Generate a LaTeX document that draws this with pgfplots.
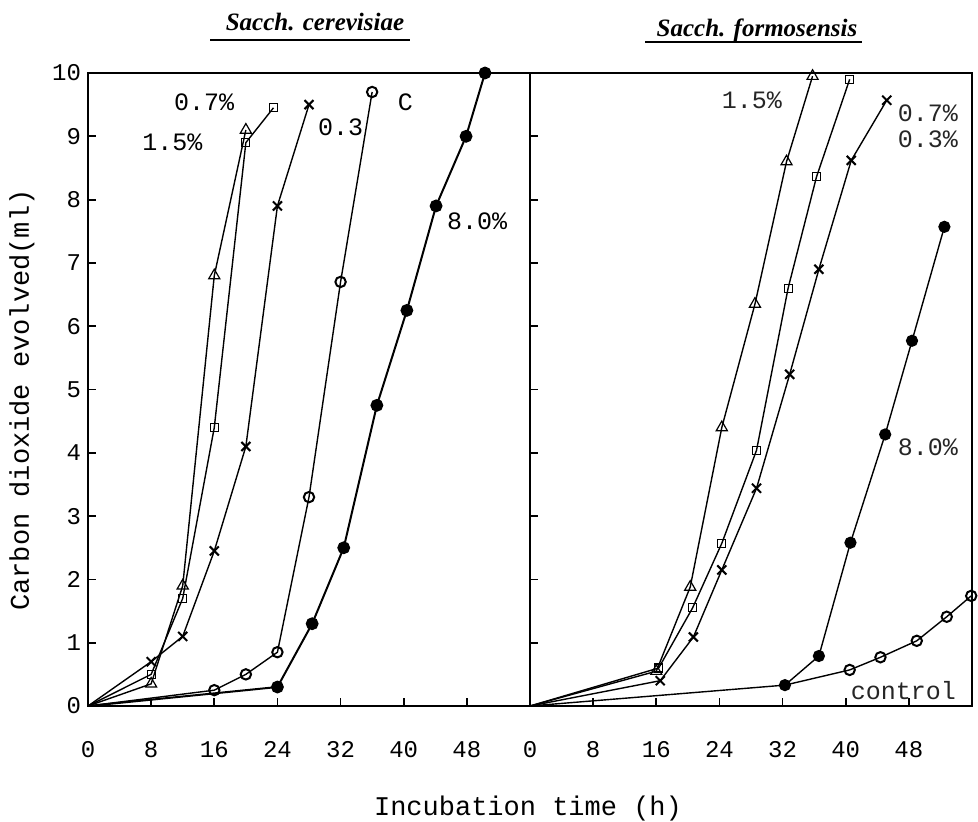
\documentclass[border=0pt]{standalone}
\usepackage{fontspec}
\setmainfont{Liberation Mono}
\newfontfamily\titlefont{Liberation Serif}
\usepackage{pgfplots}
\pgfplotsset{compat=1.18}

\pgfplotsset{
  panel/.style={
    scale only axis, width=221pt, height=316.5pt,
    anchor=south west,
    xmin=0, xmax=56, ymin=0, ymax=10,
    xtick={0,8,...,48}, ytick={0,1,...,10},
    xtick pos=bottom, ytick pos=left,
    tick align=inside, major tick length=4pt,
    tick style={line width=0.9pt, black},
    axis line style={line width=1.2pt},
    xticklabel style={yshift=-14pt},
    tick label style={font=\fontsize{12}{14}\selectfont},
    /pgf/number format/assume math mode=true,
    clip=false,
  },
  ser/.style={black, line width=0.7pt, mark phase=2},
  tri/.style={ser, mark=triangle, mark size=3.2pt, mark options={solid, line width=0.6pt}},
  sq/.style={ser, mark=square, mark size=2pt, mark options={solid, line width=0.6pt}},
  crs/.style={ser, mark=x, mark size=3.2pt, mark options={solid, line width=1pt}},
  circ/.style={ser, mark=o, mark size=2.6pt, mark options={solid, line width=1pt, fill=white}},
  dot/.style={ser, mark=*, mark size=2.7pt, mark options={solid, fill=black}},
}

\begin{document}
\begin{tikzpicture}
\path[use as bounding box] (0,0) rectangle (489pt,410.5pt);

% Sacch. cerevisiae
\begin{axis}[panel, at={(44pt,57.5pt)}]
\addplot[tri] coordinates {(0,0) (8,0.35) (12,1.9) (16,6.8) (20,9.1)};
\addplot[sq] coordinates {(0,0) (8,0.5) (12,1.7) (16,4.4) (20,8.9) (23.5,9.45)};
\addplot[crs] coordinates {(0,0) (8,0.7) (12,1.1) (16,2.45) (20,4.1) (24,7.9) (28,9.5)};
\addplot[circ] coordinates {(0,0) (16,0.25) (20,0.5) (24,0.85) (28,3.3) (32,6.7) (36,9.7)};
\addplot[dot, line width=1pt] coordinates {(0,0) (24,0.3) (28.4,1.3) (32.4,2.5) (36.6,4.75) (40.4,6.25) (44.1,7.9) (47.9,9.0) (50.3,10)};
\begin{scope}[font=\fontsize{12.5}{14}\selectfont]
\node at (axis cs:14.7,9.54) {0.7\%};
\node at (axis cs:10.7,8.9) {1.5\%};
\node at (axis cs:32,9.15) {0.3};
\node at (axis cs:40.2,9.54) {C};
\node at (axis cs:49.3,7.65) {8.0\%};
\end{scope}
\end{axis}

% Sacch. formosensis
\begin{axis}[panel, at={(265pt,57.5pt)}, yticklabels={}]
\addplot[tri] coordinates {(0,0) (16,0.55) (20.3,1.88) (24.3,4.4) (28.5,6.35) (32.5,8.6) (35.8,9.95)};
\addplot[sq] coordinates {(0,0) (16.3,0.6) (20.6,1.55) (24.3,2.57) (28.7,4.04) (32.7,6.6) (36.3,8.36) (40.5,9.9)};
\addplot[crs] coordinates {(0,0) (16.5,0.4) (20.7,1.09) (24.3,2.15) (28.7,3.44) (32.9,5.24) (36.6,6.9) (40.7,8.62) (45.2,9.57)};
\addplot[circ] coordinates {(32.3,0.33) (40.5,0.57) (44.4,0.77) (49,1.03) (52.8,1.41) (55.9,1.74)};
\addplot[dot] coordinates {(0,0) (32.3,0.33) (36.6,0.79) (40.6,2.58) (45,4.29) (48.4,5.77) (52.5,7.57)};
\begin{scope}[font=\fontsize{12.5}{14}\selectfont, text=black!85]
\node at (axis cs:28.1,9.57) {1.5\%};
\node at (axis cs:50.4,9.37) {0.7\%};
\node at (axis cs:50.4,8.96) {0.3\%};
\node at (axis cs:50.4,4.08) {8.0\%};
\node at (axis cs:47.3,0.24) {control};
\end{scope}
\end{axis}

% panel titles with underlines
\node[font=\titlefont\bfseries\itshape\fontsize{12.5}{14}\selectfont] at (157.5pt,399.5pt) {Sacch. cerevisiae};
\draw[line width=0.7pt] (105pt,390.5pt) -- (205pt,390.5pt);
\node[font=\titlefont\bfseries\itshape\fontsize{12.5}{14}\selectfont] at (378.5pt,395.5pt) {Sacch. formosensis};
\draw[line width=0.7pt] (322.5pt,389.5pt) -- (431pt,389.5pt);

% axis titles
\node[rotate=90, font=\fontsize{13.5}{15}\selectfont] at (11pt,210.5pt) {Carbon dioxide evolved(ml)};
\node[font=\fontsize{13.5}{15}\selectfont] at (264pt,6pt) {Incubation time (h)};
\end{tikzpicture}
\end{document}
